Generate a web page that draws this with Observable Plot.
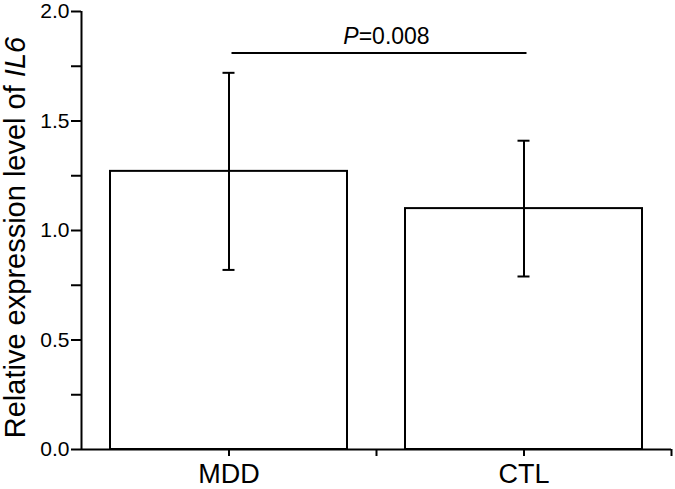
<!DOCTYPE html>
<html><head><meta charset="utf-8">
<script src="https://cdn.jsdelivr.net/npm/d3@7"></script>
<script src="https://cdn.jsdelivr.net/npm/@observablehq/plot@0.6"></script>
<style>
body{margin:0;background:#fff;}
svg{font-family:"Liberation Sans",Arial,Helvetica,sans-serif;}
</style>
</head><body><div id="chart"></div>
<script>
const categories = ["MDD", "CTL"];
const means = [1.27, 1.10];
const sds = [0.45, 0.31];
const yTickValues = [0, 0.25, 0.5, 0.75, 1, 1.25, 1.5, 1.75, 2];
const yLabelTicks = [0, 0.5, 1, 1.5, 2];
const yTitleParts = ["Relative expression level of ", "IL6"];
const pParts = ["P", "=0.008"];
const comparison = [{from: "MDD", to: "CTL", y: 1.81}];

const data = categories.map((c, i) => ({cat: c, mean: means[i], lo: means[i] - sds[i], hi: means[i] + sds[i]}));

const W = 675, H = 489, mL = 81, mR = 4, mT = 11, mB = 40;
const band = (W - mL - mR) / categories.length;
const capHalf = 6;
const sw = 2;
const yTickLen = 10, xTickLen = 7;

const chart = Plot.plot({
  width: W, height: H,
  marginLeft: mL, marginRight: mR, marginTop: mT, marginBottom: mB,
  style: {fontFamily: '"Liberation Sans", Arial, sans-serif', color: "black", background: "white"},
  x: {type: "band", domain: categories, padding: 0},
  y: {domain: [0, 2]},
  marks: [
    Plot.barY(data, {x: "cat", y: "mean", fill: "white", stroke: "black", strokeWidth: sw, insetLeft: 29, insetRight: 29}),
    Plot.ruleX(data, {x: "cat", y1: "lo", y2: "hi", stroke: "black", strokeWidth: sw}),
    Plot.tickY(data, {x: "cat", y: "hi", stroke: "black", strokeWidth: sw, insetLeft: band / 2 - capHalf, insetRight: band / 2 - capHalf}),
    Plot.tickY(data, {x: "cat", y: "lo", stroke: "black", strokeWidth: sw, insetLeft: band / 2 - capHalf, insetRight: band / 2 - capHalf}),
    Plot.ruleY(comparison, {x1: "from", x2: "to", y: "y", stroke: "black", strokeWidth: sw, insetLeft: band / 2 + 3, insetRight: band / 2 - 3}),
    Plot.text(comparison, {y: "y", text: () => pParts.join(""), frameAnchor: "middle", dx: 10, dy: -9, lineAnchor: "bottom", fontSize: 23, fill: "black"}),
    // axis tick labels
    Plot.axisY({ticks: yLabelTicks, tickFormat: d => d.toFixed(1), tickSize: 0, tickPadding: yTickLen + 2, fontSize: 21, fill: "black", label: null}),
    Plot.axisX({tickSize: 0, tickPadding: xTickLen + 7, fontSize: 27, fill: "black", label: null}),
    // y ticks (major and minor), drawn outward from the axis line
    Plot.tickY(yTickValues, {y: d => d, insetLeft: -yTickLen, insetRight: W - mL - mR, stroke: "black", strokeWidth: sw}),
    // x ticks at category centres and band boundaries
    Plot.ruleX(categories, {x: d => d, y1: () => 0, y2: () => 0, insetBottom: -xTickLen, stroke: "black", strokeWidth: sw}),
    Plot.ruleX(categories, {x: d => d, dx: band / 2, y1: () => 0, y2: () => 0, insetBottom: -xTickLen, stroke: "black", strokeWidth: sw}),
    // axis lines
    Plot.ruleX([categories[0]], {x: d => d, dx: -band / 2, stroke: "black", strokeWidth: sw}),
    Plot.ruleY([0], {stroke: "black", strokeWidth: sw}),
    Plot.text([yTitleParts.join("")], {frameAnchor: "left", rotate: -90, dx: -66, dy: 7, fontSize: 29, textAnchor: "middle", lineAnchor: "middle", fill: "black"})
  ]
});
document.getElementById("chart").appendChild(chart);

// Apply italics to parts of the text labels
const svg = d3.select(chart);
svg.selectAll("text").each(function() {
  const t = d3.select(this);
  const s = this.textContent;
  if (s === yTitleParts.join("")) {
    t.text(null);
    t.append("tspan").text(yTitleParts[0]);
    t.append("tspan").attr("font-style", "italic").text(yTitleParts[1]);
  } else if (s === pParts.join("")) {
    t.text(null);
    t.append("tspan").attr("font-style", "italic").text(pParts[0]);
    t.append("tspan").text(pParts[1]);
  }
});
</script>
</body></html>
